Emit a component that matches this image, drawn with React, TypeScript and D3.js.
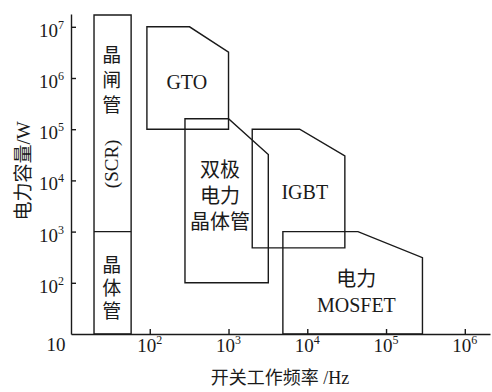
import { useEffect, useRef } from "react";
import * as d3 from "d3";

// Chart size (matches the reference picture)
const width = 492;
const height = 392;

// Axis extents: decades shown on each log axis
const X_MAX_EXP = 6.32;
const Y_MAX_EXP = 7.25;
const xTickExps = [2, 3, 4, 5, 6];
const yTickExps = [2, 3, 4, 5, 6, 7];

// Device regions, as [frequency Hz, power W]
const scrRegion: [number, number][] = [[19.6, 1.7e7], [58, 1.7e7], [58, 10], [19.6, 10]];
const scrDivider: [number, number][] = [[19.6, 1000], [58, 1000]];
const gtoRegion: [number, number][] = [[92, 1e7], [320, 1e7], [1000, 3.2e6], [1000, 1e5], [92, 1e5]];
const bjtRegion: [number, number][] = [[280, 1.6e5], [1000, 1.6e5], [3200, 3.2e4], [3200, 100], [280, 100]];
const igbtRegion: [number, number][] = [[2000, 1e5], [8000, 1e5], [3e4, 3e4], [3e4, 480], [2000, 480]];
const mosfetRegion: [number, number][] = [[4900, 1000], [4.4e4, 1000], [2.9e5, 310], [2.9e5, 10], [4900, 10]];

// Region labels: lines of text, centre in data coords
const labels = [
  { lines: ["晶", "闸", "管"], at: [33, 9e5], lh: 25, size: 19 },
  { lines: ["晶", "体", "管"], at: [33, 80], lh: 23, size: 19 },
  { lines: ["GTO"], at: [295, 8.3e5], lh: 20, size: 20 },
  { lines: ["双极", "电力", "晶体管"], at: [780, 5000], lh: 26, size: 20 },
  { lines: ["IGBT"], at: [9300, 6000], lh: 20, size: 20 },
  { lines: ["电力", "MOSFET"], at: [4.2e4, 66], lh: 26, size: 20 },
];
const scrLabel = { text: "(SCR)", at: [33, 2.1e4] };

const xTitle = "开关工作频率 /Hz";
const yTitle = "电力容量/W";

const FONT = "'Times New Roman', 'Liberation Serif', 'Noto Sans CJK SC', serif";
const INK = "#1a1a1a";

export default function App() {
  const xAxisRef = useRef<SVGGElement>(null);
  const yAxisRef = useRef<SVGGElement>(null);

  const x = d3.scaleLog().domain([10, Math.pow(10, X_MAX_EXP)]).range([71, 490]);
  const y = d3.scaleLog().domain([10, Math.pow(10, Y_MAX_EXP)]).range([334, 14]);

  const line = d3
    .line<[number, number]>()
    .x((d) => x(d[0]))
    .y((d) => y(d[1]));

  useEffect(() => {
    const xAxis = d3
      .axisBottom(x)
      .tickValues(xTickExps.map((e) => Math.pow(10, e)))
      .tickSizeInner(-5)
      .tickSizeOuter(0)
      .tickFormat(() => "");
    const gx = d3.select(xAxisRef.current!).call(xAxis);
    gx.selectAll("path, line").attr("stroke", INK).attr("stroke-width", 1.4);

    const yAxis = d3
      .axisLeft(y)
      .tickValues(yTickExps.map((e) => Math.pow(10, e)))
      .tickSizeInner(-5)
      .tickSizeOuter(0)
      .tickFormat(() => "");
    const gy = d3.select(yAxisRef.current!).call(yAxis);
    gy.selectAll("path, line").attr("stroke", INK).attr("stroke-width", 1.4);
  }, []);

  const regions = [scrRegion, gtoRegion, bjtRegion, igbtRegion, mosfetRegion];

  return (
    <svg
      width={width}
      height={height}
      style={{ position: "absolute", left: 0, top: 0, background: "#fff" }}
      fontFamily={FONT}
    >
      <g ref={xAxisRef} transform={`translate(0,${y(10)})`} />
      <g ref={yAxisRef} transform={`translate(${x(10)},0)`} />

      {regions.map((r, i) => (
        <path key={i} d={line(r)! + "Z"} fill="none" stroke={INK} strokeWidth={1.4} />
      ))}
      <path d={line(scrDivider)!} fill="none" stroke={INK} strokeWidth={1.4} />

      {/* x tick labels */}
      {xTickExps.map((e) => (
        <text key={e} x={x(Math.pow(10, e))} y={352} textAnchor="middle" fontSize={19} fill={INK}>
          10
          <tspan fontSize={12} dy={-8}>
            {e}
          </tspan>
        </text>
      ))}
      <text x={56} y={351} textAnchor="middle" fontSize={19} fill={INK}>
        10
      </text>

      {/* y tick labels */}
      {yTickExps.map((e) => (
        <text key={e} x={64} y={y(Math.pow(10, e)) + 10} textAnchor="end" fontSize={19} fill={INK}>
          10
          <tspan fontSize={12} dy={-8}>
            {e}
          </tspan>
        </text>
      ))}

      {/* region labels */}
      {labels.map((l, i) => {
        const cx = x(l.at[0]);
        const cy = y(l.at[1]);
        const top = cy - ((l.lines.length - 1) * l.lh) / 2;
        return (
          <text key={i} textAnchor="middle" fontSize={l.size} fill={INK} dominantBaseline="central">
            {l.lines.map((t, j) => (
              <tspan key={j} x={cx} y={top + j * l.lh}>
                {t}
              </tspan>
            ))}
          </text>
        );
      })}
      <text
        transform={`translate(${x(scrLabel.at[0])},${y(scrLabel.at[1])}) rotate(-90)`}
        textAnchor="middle"
        dominantBaseline="central"
        fontSize={19}
        fill={INK}
      >
        {scrLabel.text}
      </text>

      {/* axis titles */}
      <text x={280} y={384} textAnchor="middle" fontSize={18} fill={INK}>
        {xTitle}
      </text>
      <text
        transform={`translate(23,171) rotate(-90)`}
        textAnchor="middle"
        dominantBaseline="central"
        fontSize={19}
        fill={INK}
      >
        {yTitle}
      </text>
    </svg>
  );
}
